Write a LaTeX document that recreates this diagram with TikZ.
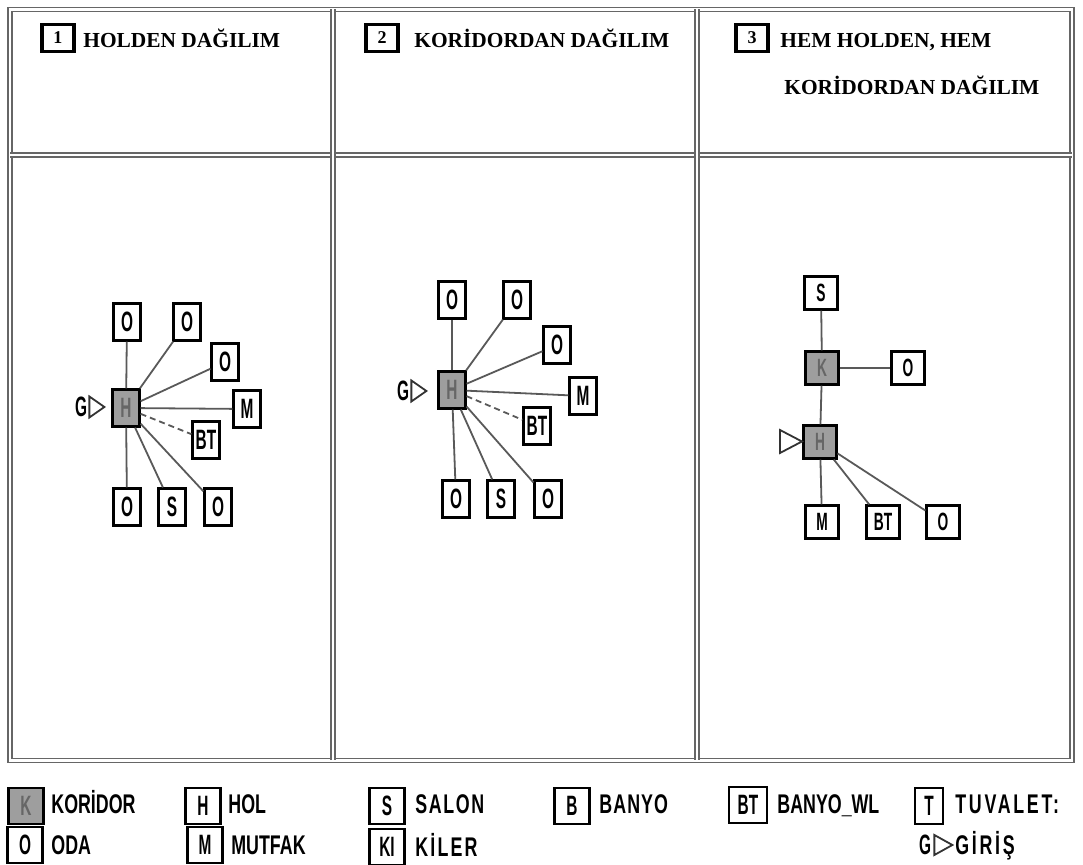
\documentclass[tikz,border=0pt]{standalone}
\usepackage{fontspec}
\setmainfont{Liberation Serif}
\newfontfamily\roomfont{Liberation Sans}[FakeStretch=0.55]
\newfontfamily\legfont{Liberation Sans}[FakeStretch=0.66]
\definecolor{hallgray}{gray}{0.62}
\definecolor{framegray}{gray}{0.4}
\definecolor{linkgray}{gray}{0.35}
\begin{document}
\begin{tikzpicture}[x=0.5pt,y=-0.5pt,
		frame/.style={draw=framegray, line width=0.9pt, double=white, double distance=1.1pt},
		room/.style={draw=black, line width=1.1pt, fill=white, inner sep=0pt, minimum width=13.5pt, minimum height=18.5pt, font=\roomfont\bfseries\fontsize{14}{14}\selectfont},
		hall/.style={room, fill=hallgray, text=black!60},
		sqroom/.style={room, minimum width=16.5pt, minimum height=16.5pt, font=\roomfont\bfseries\fontsize{12.5}{12.5}\selectfont},
		sqhall/.style={sqroom, fill=hallgray, text=black!60},
		link/.style={draw=linkgray, line width=0.9pt},
		wetlink/.style={link, densely dashed},
		entry/.style={draw=black!80, line width=0.9pt},
		gate/.style={inner sep=0pt, font=\roomfont\bfseries\fontsize{14}{14}\selectfont},
		title/.style={anchor=base west, inner sep=0pt, font=\bfseries\fontsize{10.7}{12}\selectfont},
		numbox/.style={draw=black, line width=1.6pt, fill=white, inner sep=0pt, minimum width=16pt, minimum height=13.5pt, font=\bfseries\fontsize{9}{9}\selectfont},
		keybox/.style={room, minimum width=17.5pt, minimum height=18pt},
		keytext/.style={anchor=base west, inner sep=0pt, font=\legfont\bfseries\fontsize{13.5}{14}\selectfont}]
		\useasboundingbox (0,0) rectangle (1083,865);
		
		\draw[frame] (10,9.5) rectangle (1072,760.5);
		\draw[frame] (10,155) -- (1072,155);
		\draw[frame] (333,9.5) -- (333,760.5);
		\draw[frame] (697,9.5) -- (697,760.5);
		
		\node[numbox] (n1) at (58,38) {1};
		\node[title] (t1) at (83,47.5) {HOLDEN DAĞILIM};
		\node[numbox] (n2) at (382,38) {2};
		\node[title] (t2) at (414,47.5) {KORİDORDAN DAĞILIM};
		\node[numbox] (n3) at (752,38) {3};
		\node[title] (t3a) at (780,47.5) {HEM HOLDEN, HEM};
		\node[title] (t3b) at (784,94.5) {KORİDORDAN DAĞILIM};
		
		\node[hall] (h1) at (126,408) {H};
		\node[room] (a1) at (127,322) {O};
		\node[room] (a2) at (187,322) {O};
		\node[room] (a3) at (225,362) {O};
		\node[room] (m1) at (247,409) {M};
		\node[room] (bt1) at (206,440) {BT};
		\node[room] (a4) at (127,507) {O};
		\node[room] (s1) at (172,507) {S};
		\node[room] (a5) at (218,507) {O};
		\node[gate] (g1) at (81,407) {G};
		\draw[entry] (g1.east) ++(2,-10.5) -- ++(15,10.5) -- ++(-15,10.5) -- cycle;
		
		\draw[link] (h1) -- (a1);
		\draw[link] (h1) -- (a2);
		\draw[link] (h1) -- (a3);
		\draw[link] (h1) -- (m1);
		\draw[wetlink] (h1) -- (bt1);
		\draw[link] (h1) -- (a4);
		\draw[link] (h1) -- (s1);
		\draw[link] (h1) -- (a5);
		
		\node[hall] (h2) at (452,390) {H};
		\node[room] (b1) at (452,300) {O};
		\node[room] (b2) at (517,300) {O};
		\node[room] (b3) at (557,345) {O};
		\node[room] (m2) at (583,396) {M};
		\node[room] (bt2) at (537,426) {BT};
		\node[room] (b4) at (456,499) {O};
		\node[room] (s2) at (501,499) {S};
		\node[room] (b5) at (548,499) {O};
		\node[gate] (g2) at (403,391) {G};
		\draw[entry] (g2.east) ++(2,-10.5) -- ++(15,10.5) -- ++(-15,10.5) -- cycle;
		
		\draw[link] (h2) -- (b1);
		\draw[link] (h2) -- (b2);
		\draw[link] (h2) -- (b3);
		\draw[link] (h2) -- (m2);
		\draw[wetlink] (h2) -- (bt2);
		\draw[link] (h2) -- (b4);
		\draw[link] (h2) -- (s2);
		\draw[link] (h2) -- (b5);
		
		\node[sqroom] (s3) at (821,293) {S};
		\node[sqhall] (k3) at (822,368) {K};
		\node[sqroom] (c1) at (908,368) {O};
		\node[sqhall] (h3) at (820,442) {H};
		\node[sqroom] (m3) at (822,522) {M};
		\node[sqroom] (bt3) at (883,522) {BT};
		\node[sqroom] (c2) at (943,522) {O};
		\coordinate (e3) at (780,441.5);
		\draw[entry] (e3) ++(0,-11.5) -- ++(22,11.5) -- ++(-22,11.5) -- cycle;
		
		\draw[link] (s3) -- (k3);
		\draw[link] (k3) -- (c1);
		\draw[link] (k3) -- (h3);
		\draw[link] (h3) -- (m3);
		\draw[link] (h3) -- (bt3);
		\draw[link] (h3) -- (c2);
		
		\node[keybox, fill=hallgray, text=black!60] (kk) at (26,806) {K};
		\node[keytext] (kkt) at (51,813.5) {KORİDOR};
		\node[keybox] (ko) at (25,845) {O};
		\node[keytext] (kot) at (51,854.5) {ODA};
		\node[keybox] (kh) at (203,806) {H};
		\node[keytext] (kht) at (228,813.5) {HOL};
		\node[keybox] (km) at (205,845) {M};
		\node[keytext] (kmt) at (231,854.5) {MUTFAK};
		\node[keybox] (ks) at (387,806) {S};
		\node[keytext] (kst) at (415,813.5) {\addfontfeature{LetterSpace=6}SALON};
		\node[keybox] (kki) at (387,847) {KI};
		\node[keytext] (kkit) at (415,856.5) {\addfontfeature{LetterSpace=8}KİLER};
		\node[keybox] (kb) at (572,806) {B};
		\node[keytext] (kbt) at (599,813.5) {\addfontfeature{LetterSpace=4}BANYO};
		\node[keybox, minimum width=19pt] (kbw) at (748,805) {BT};
		\node[keytext] (kbwt) at (777,813.5) {BANYO\_WL};
		\node[keybox, minimum width=14pt] (kt) at (929,806) {T};
		\node[keytext] (ktt) at (955,813.5) {\addfontfeature{LetterSpace=10}TUVALET:};
		\node[gate] (kg) at (925,845) {G};
		\draw[entry] (kg.east) ++(3,-10) -- ++(18,10) -- ++(-18,10) -- cycle;
		\node[keytext] (kgt) at (955,854.5) {\addfontfeature{LetterSpace=10}GİRİŞ};
	\end{tikzpicture}
\end{document}
